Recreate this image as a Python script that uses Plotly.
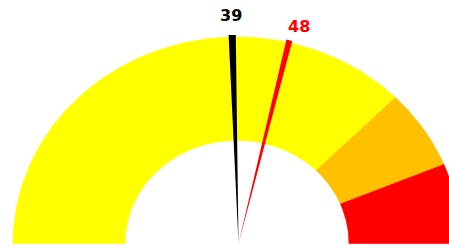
import numpy as np
import plotly.graph_objects as go

# ---- data ----
GAUGE_RANGE = [0, 80]
BAND_EDGES = [0, 60, 70, 80]
BAND_COLORS = ["#FFFF00", "#FFC000", "#FF0000"]
NEEDLE_VALUES = [39, 48]
NEEDLE_COLORS = ["#000000", "#FF0000"]
NEEDLE_LABELS = ["39", "48"]

# ---- layout constants ----
W, H = 449, 246
CX, CY = 237.0, 243.5     # gauge centre in pixels
RX, RY = 224.0, 206.5     # outer radii in pixels
HOLE = 0.5
NEEDLE_DX = 1.5 / RX      # needle pivot offset (normalised)
NEEDLE_XK = 0.71
NEEDLE_HALF_W = [3.6, 3.0]
LABEL_XK, LABEL_YK = 0.88, 1.105


def ang(v):
    lo, hi = GAUGE_RANGE
    return np.pi * (1 - (v - lo) / (hi - lo))


fig = go.Figure()

for lo, hi, col in zip(BAND_EDGES[:-1], BAND_EDGES[1:], BAND_COLORS):
    t = np.linspace(ang(lo), ang(hi), 160)
    xs = np.concatenate([np.cos(t), HOLE * np.cos(t[::-1])])
    ys = np.concatenate([np.sin(t), HOLE * np.sin(t[::-1])])
    xs = np.append(xs, xs[0])
    ys = np.append(ys, ys[0])
    fig.add_trace(go.Scatter(x=xs, y=ys, mode="lines", fill="toself",
                             fillcolor=col, line=dict(color=col, width=0.6),
                             hoverinfo="skip", showlegend=False))

for v, col, hw in zip(NEEDLE_VALUES, NEEDLE_COLORS, NEEDLE_HALF_W):
    th = ang(v)
    dx, dy = NEEDLE_XK * np.cos(th), np.sin(th)
    n = np.hypot(dx, dy)
    tx, ty = 1.01 * dx / n, 1.01 * dy / n
    # perpendicular in pixel space
    px, py = tx * RX, ty * RY
    L = np.hypot(px, py)
    ox, oy = -py / L * hw, px / L * hw
    b = NEEDLE_DX
    xs = [b, b + tx + ox / RX, b + tx - ox / RX, b]
    ys = [0, ty + oy / RY, ty - oy / RY, 0]
    fig.add_trace(go.Scatter(x=xs, y=ys, mode="lines", fill="toself",
                             fillcolor=col, line=dict(color=col, width=0),
                             hoverinfo="skip", showlegend=False))

for v, col, lab in zip(NEEDLE_VALUES, NEEDLE_COLORS, NEEDLE_LABELS):
    th = ang(v)
    fig.add_annotation(x=NEEDLE_DX + LABEL_XK * np.cos(th), y=LABEL_YK * np.sin(th),
                       xref="x", yref="y", text=f"<b>{lab}</b>",
                       showarrow=False, xanchor="center", yanchor="middle",
                       font=dict(family="DejaVu Sans", size=16, color=col))

fig.update_layout(
    width=W, height=H,
    margin=dict(l=0, r=0, t=0, b=0),
    paper_bgcolor="white", plot_bgcolor="white",
    xaxis=dict(range=[-CX / RX, (W - CX) / RX], visible=False, fixedrange=True),
    yaxis=dict(range=[(CY - H) / RY, CY / RY], visible=False, fixedrange=True),
    showlegend=False,
)

fig.write_html("out.html", config={"displayModeBar": False},
               post_script="document.body.style.margin='0';document.body.style.overflow='hidden';")
